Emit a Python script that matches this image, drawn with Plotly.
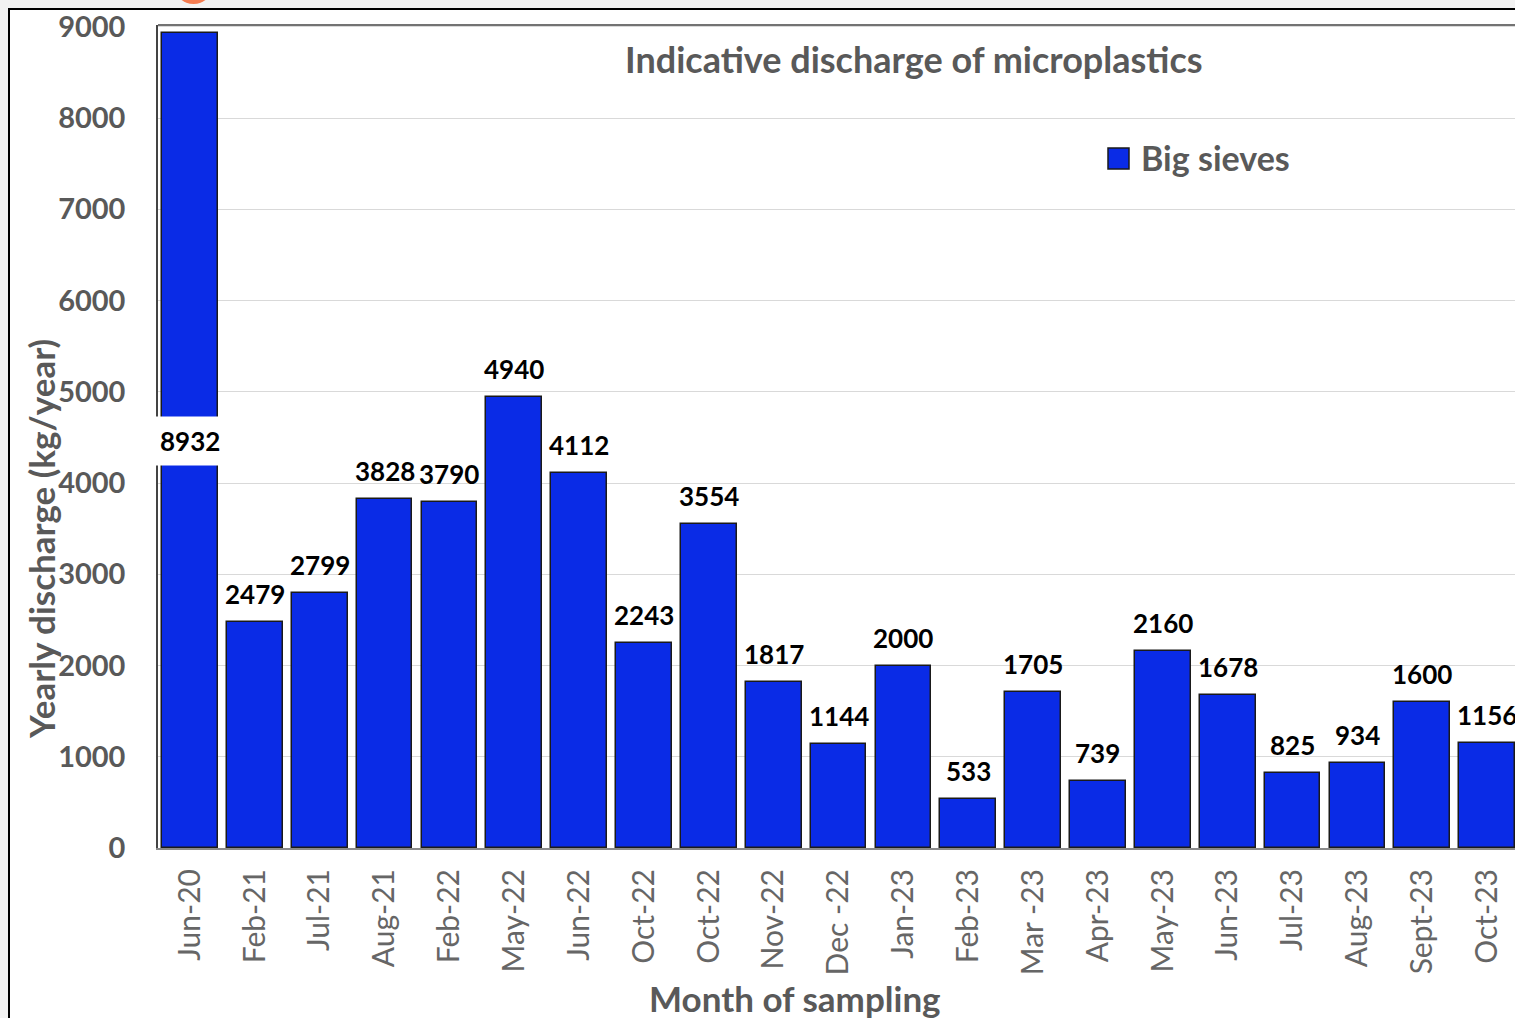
import plotly.graph_objects as go

# Sampling months (Oct-22 was sampled twice, so bars are placed by index)
months = ["Jun-20", "Feb-21", "Jul-21", "Aug-21", "Feb-22", "May-22", "Jun-22",
          "Oct-22", "Oct-22", "Nov-22", "Dec -22", "Jan-23", "Feb-23", "Mar -23",
          "Apr-23", "May-23", "Jun-23", "Jul-23", "Aug-23", "Sept-23", "Oct-23"]
big_sieves = [8932, 2479, 2799, 3828, 3790, 4940, 4112, 2243, 3554, 1817, 1144,
              2000, 533, 1705, 739, 2160, 1678, 825, 934, 1600, 1156]
y_ticks = [0, 1000, 2000, 3000, 4000, 5000, 6000, 7000, 8000, 9000]

W, H = 1515, 1018
L, T, R, B = 158, 25, 0, 170
PW, PH = W - L - R, H - T - B

def px(x):
    return (x - L) / PW

def py(y):
    return (H - B - y) / PH

FONT = "Lato"
GREY = "#595959"
BLUE = "#0a2be6"

idx = list(range(len(months)))

fig = go.Figure()
fig.add_trace(go.Bar(
    x=idx, y=big_sieves, name="Big sieves", width=0.86,
    marker=dict(color=BLUE, line=dict(color="#1a1a1a", width=1.5)),
    cliponaxis=True, showlegend=False,
))

annotations = []
for i, v in enumerate(big_sieves):
    if i == 0:
        # tall first bar: value shown in the middle on a white box
        annotations.append(dict(x=i, y=v / 2, text=str(v), showarrow=False,
                                xref="x", yref="y", bgcolor="white",
                                borderpad=8,
                                font=dict(family=FONT, size=26, color="black", weight="bold")))
    else:
        annotations.append(dict(x=i, y=v, text=str(v), showarrow=False,
                                xref="x", yref="y", yanchor="middle", yshift=28,
                                font=dict(family=FONT, size=26, color="black", weight="bold")))

annotations += [
    dict(x=px(914), y=py(59), xref="paper", yref="paper", showarrow=False,
         xanchor="center", yanchor="middle",
         text="Indicative discharge of microplastics",
         font=dict(family=FONT, size=36, color=GREY, weight="bold")),
    dict(x=px(795), y=py(998), xref="paper", yref="paper", showarrow=False,
         xanchor="center", yanchor="middle",
         text="Month of sampling",
         font=dict(family=FONT, size=35, color=GREY, weight="bold")),
    dict(x=px(41), y=py(539), xref="paper", yref="paper", showarrow=False,
         xanchor="center", yanchor="middle",
         text="Yearly discharge (kg/year)", textangle=-90,
         font=dict(family=FONT, size=35, color=GREY, weight="bold")),
    # legend label
    dict(x=px(1139), y=py(158), xref="paper", yref="paper", showarrow=False,
         xanchor="left", yanchor="middle",
         text="Big sieves",
         font=dict(family=FONT, size=34, color=GREY, weight="bold")),
]

shapes = [
    # outer page margin and frame
    dict(type="rect", xref="paper", yref="paper", x0=px(0), x1=px(W), y0=py(0), y1=py(8),
         fillcolor="#f2f2f2", line=dict(width=0), layer="below"),
    dict(type="rect", xref="paper", yref="paper", x0=px(0), x1=px(8), y0=py(0), y1=py(H),
         fillcolor="#f2f2f2", line=dict(width=0), layer="below"),
    dict(type="circle", xref="paper", yref="paper", x0=px(175), x1=px(212), y0=py(4), y1=py(-30),
         fillcolor="#f47c50", line=dict(width=0)),
    dict(type="line", xref="paper", yref="paper", x0=px(8), x1=px(W), y0=py(9), y1=py(9),
         line=dict(color="black", width=2)),
    dict(type="line", xref="paper", yref="paper", x0=px(9), x1=px(9), y0=py(8), y1=py(H),
         line=dict(color="black", width=2)),
    # plot frame top edge
    dict(type="line", xref="paper", yref="paper", x0=0, x1=1, y0=1, y1=1,
         line=dict(color="#444444", width=1.5)),
    # legend swatch
    dict(type="rect", xref="paper", yref="paper", x0=px(1108), x1=px(1129), y0=py(148), y1=py(169),
         fillcolor=BLUE, line=dict(color="#1a1a1a", width=1.5)),
]

fig.update_layout(
    width=W, height=H,
    margin=dict(l=L, r=R, t=T, b=B, pad=0),
    paper_bgcolor="white", plot_bgcolor="white",
    showlegend=False,
    annotations=annotations,
    shapes=shapes,
    bargap=0,
)

fig.update_xaxes(
    range=[-0.493, 20.43],
    tickmode="array", tickvals=idx, ticktext=months,
    tickangle=-90,
    tickfont=dict(family=FONT, size=30, color="#666666"),
    showline=True, linecolor="#8a8a8a", linewidth=2,
    showgrid=False, ticks="", ticklabelstandoff=7,
)
fig.update_yaxes(
    range=[0, 9020],
    tickmode="array", tickvals=y_ticks,
    tickfont=dict(family=FONT, size=29, color=GREY, weight="bold"),
    showline=True, linecolor="#444444", linewidth=1.5,
    showgrid=True, gridcolor="#d9d9d9", gridwidth=1,
    zeroline=False, ticks="", ticklabelstandoff=25,
)

fig.write_html("out.html")
